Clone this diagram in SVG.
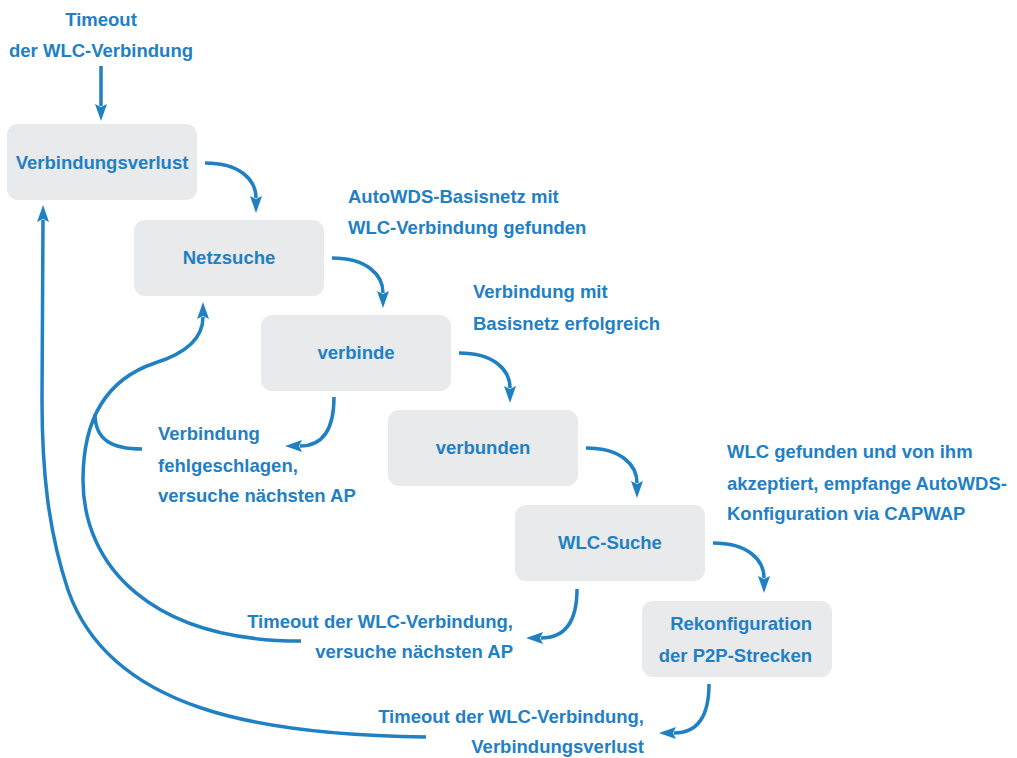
<svg xmlns="http://www.w3.org/2000/svg" width="1017" height="758" viewBox="0 0 1017 758">
<style>
.box{fill:#e9eaec;}
.t{font-family:"Liberation Sans",Arial,sans-serif;font-weight:bold;font-size:18.5px;fill:#1f80c4;}
.m{text-anchor:middle;}
.e{text-anchor:end;}
.c{fill:none;stroke:#1f80c4;stroke-width:3.5;}
</style>
<defs>
<marker id="ah" viewBox="0 0 17 12" refX="2" refY="6" markerWidth="17" markerHeight="12" markerUnits="userSpaceOnUse" orient="auto">
<path d="M0,0 L17,6 L0,12 L3,6 z" fill="#1f80c4"/>
</marker>
</defs>
<rect width="1017" height="758" fill="#ffffff"/>
<g id="connectors">
<path class="c" d="M101,66 L101,106" marker-end="url(#ah)"/>
<path class="c" d="M205,163 C240,163 256,180 256,198" marker-end="url(#ah)"/>
<path class="c" d="M332,258 C367,258 383,275 383,293" marker-end="url(#ah)"/>
<path class="c" d="M459,353 C494,353 510,370 510,388" marker-end="url(#ah)"/>
<path class="c" d="M586,448 C621,448 637,465 637,483" marker-end="url(#ah)"/>
<path class="c" d="M713,543 C748,543 764,560 764,578" marker-end="url(#ah)"/>
<path class="c" d="M334,397 C334,430 322,446 300,446" marker-end="url(#ah)"/>
<path class="c" d="M577,589 C577,622 565,638 541,638" marker-end="url(#ah)"/>
<path class="c" d="M709,684 C709,717 697,733 674,733" marker-end="url(#ah)"/>
<path class="c" d="M142,449 C112,449 95,440 95,414"/>
<path class="c" d="M301,641 C150,641 83,565 83,480 C83,415 110,378 155,363 C190,352 203,336 203,317" marker-end="url(#ah)"/>
<path class="c" d="M426,737 C260,735 110,710 68,590 C48,530 42,470 42,400 L43,220" marker-end="url(#ah)"/>
</g>
<g id="start-label">
<text class="t m" x="101" y="26">Timeout</text>
<text class="t m" x="101" y="57">der WLC-Verbindung</text>
</g>
<g id="n1">
<rect class="box" x="7" y="124" width="190" height="76" rx="11"/>
<text class="t m" x="102" y="169">Verbindungsverlust</text>
</g>
<g id="n2">
<rect class="box" x="134" y="220" width="190" height="76" rx="11"/>
<text class="t m" x="229" y="264">Netzsuche</text>
</g>
<g id="n3">
<rect class="box" x="261" y="315" width="190" height="76" rx="11"/>
<text class="t m" x="356" y="359">verbinde</text>
</g>
<g id="n4">
<rect class="box" x="388" y="410" width="190" height="76" rx="11"/>
<text class="t m" x="483" y="454">verbunden</text>
</g>
<g id="n5">
<rect class="box" x="515" y="505" width="190" height="76" rx="11"/>
<text class="t m" x="610" y="549">WLC-Suche</text>
</g>
<g id="n6">
<rect class="box" x="642" y="601" width="190" height="76" rx="11"/>
<text class="t e" x="812" y="630">Rekonfiguration</text>
<text class="t e" x="812" y="662">der P2P-Strecken</text>
</g>
<g id="labels">
<text class="t" x="348" y="203">AutoWDS-Basisnetz mit</text>
<text class="t" x="348" y="234">WLC-Verbindung gefunden</text>
<text class="t" x="473" y="298">Verbindung mit</text>
<text class="t" x="473" y="330">Basisnetz erfolgreich</text>
<text class="t" x="727" y="458">WLC gefunden und von ihm</text>
<text class="t" x="727" y="490">akzeptiert, empfange AutoWDS-</text>
<text class="t" x="727" y="520">Konfiguration via CAPWAP</text>
<text class="t" x="158" y="440">Verbindung</text>
<text class="t" x="158" y="472">fehlgeschlagen,</text>
<text class="t" x="158" y="502">versuche nächsten AP</text>
<text class="t e" x="513" y="628">Timeout der WLC-Verbindung,</text>
<text class="t e" x="513" y="658">versuche nächsten AP</text>
<text class="t e" x="644" y="723">Timeout der WLC-Verbindung,</text>
<text class="t e" x="644" y="753">Verbindungsverlust</text>
</g>
</svg>
